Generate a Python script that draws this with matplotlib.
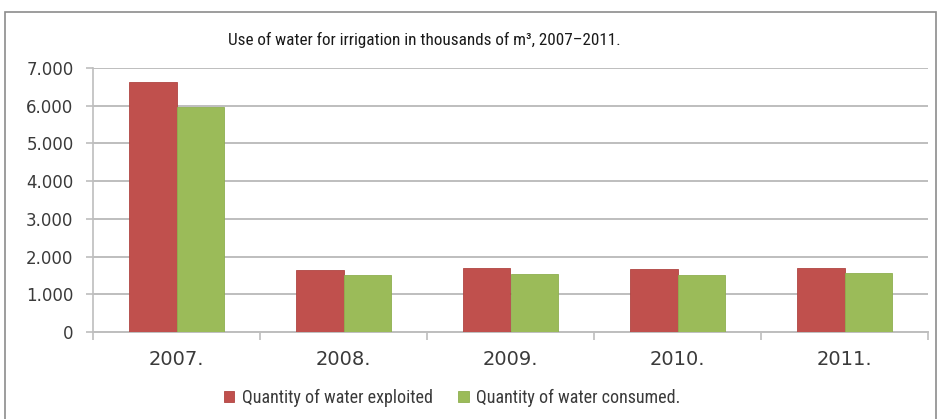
import matplotlib
matplotlib.use('Agg')
import matplotlib.pyplot as plt
import numpy as np
from matplotlib.patches import Rectangle

# Données
years = ['2007.', '2008.', '2009.', '2010.', '2011.']
exploited = [6630, 1650, 1700, 1670, 1710]
consumed = [5960, 1500, 1550, 1520, 1555]
yticks = [0, 1000, 2000, 3000, 4000, 5000, 6000, 7000]
ytick_labels = ['0', '1.000', '2.000', '3.000', '4.000', '5.000', '6.000', '7.000']

red = '#C0504D'
green = '#9BBB59'
grid_col = '#BEBEBE'
txt_col = '#3A3A3A'
narrow = ['Roboto Condensed', 'Liberation Sans Narrow', 'Liberation Sans', 'DejaVu Sans']

fig = plt.figure(figsize=(9.39, 4.19), dpi=100)
ax = fig.add_axes([93 / 939, 1 - 332 / 419, 835 / 939, 264 / 419])

# cadre extérieur
fig.patches.append(Rectangle((5 / 939, -0.01), 931 / 939, 1 - 12 / 419 + 0.01,
                             transform=fig.transFigure, fill=False,
                             edgecolor='#8C8C8C', linewidth=1.2))

x = np.arange(len(years))
w = 0.285
ax.bar(x - w / 2, exploited, w, color=red, edgecolor='#B04542', linewidth=0.6,
       label='Quantity of water exploited', zorder=3)
ax.bar(x + w / 2, consumed, w, color=green, edgecolor='#8FAF4F', linewidth=0.6,
       label='Quantity of water consumed.', zorder=3)

ax.set_xlim(-0.5, len(years) - 0.5)
ax.set_ylim(0, 7000)
ax.set_yticks(yticks)
ax.set_yticklabels(ytick_labels, fontsize=12, color=txt_col)
ax.yaxis.grid(True, color=grid_col, linewidth=1.4, zorder=0)
ax.tick_params(axis='y', length=5, width=1.2, color=grid_col, pad=9)

# graduations x entre les catégories
ax.set_xticks(np.arange(len(years) + 1) - 0.5)
ax.set_xticklabels([])
ax.set_xticks(x, minor=True)
ax.set_xticklabels(years, minor=True, fontsize=14, color=txt_col)
ax.tick_params(axis='x', which='major', length=6, width=1.2, color=grid_col)
ax.tick_params(axis='x', which='minor', length=0, pad=13)

for s in ['top', 'right']:
    ax.spines[s].set_visible(False)
ax.spines['left'].set_color(grid_col)
ax.spines['bottom'].set_color(grid_col)
ax.spines['left'].set_linewidth(1.2)
ax.spines['bottom'].set_linewidth(1.4)

fig.text(424 / 939, 1 - 40 / 419, 'Use of water for irrigation in thousands of m³, 2007–2011.',
         ha='center', va='center', fontsize=12.3, color='#1A1A1A', family=narrow)

fig.legend(loc='center', bbox_to_anchor=(452 / 939, 1 - 398 / 419), ncol=2,
           frameon=False, prop={'family': narrow, 'size': 13},
           handlelength=0.6, handleheight=0.6, handletextpad=0.4,
           columnspacing=1.4, labelcolor=txt_col)

fig.savefig('out.png', dpi=100)
